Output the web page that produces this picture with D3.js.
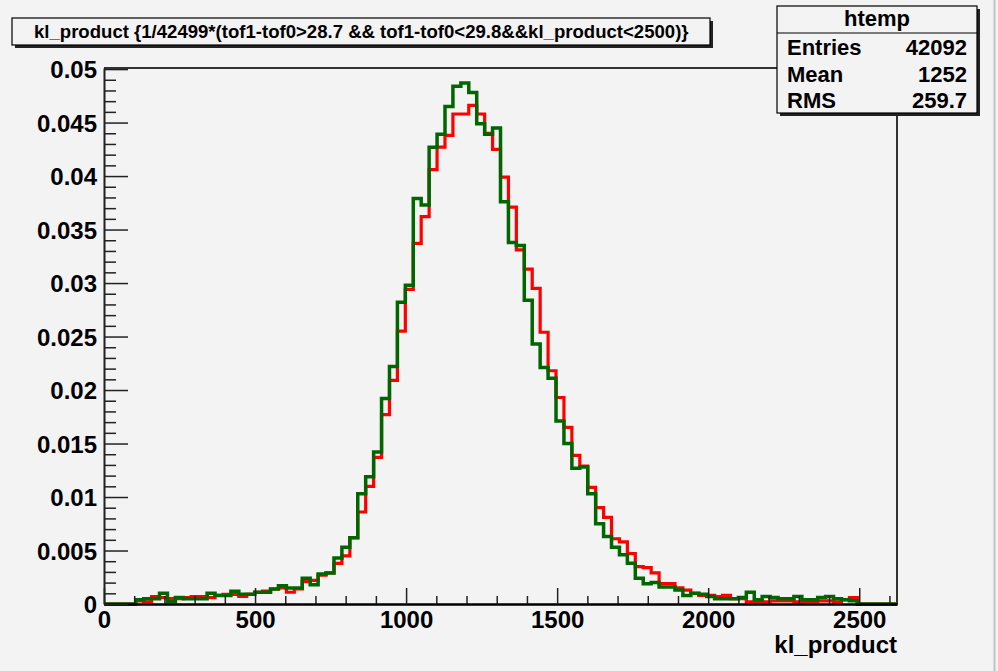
<!DOCTYPE html>
<html>
<head>
<meta charset="utf-8">
<script src="https://cdn.jsdelivr.net/npm/d3@7"></script>
<style>
  html, body { margin: 0; padding: 0; background: #f3f3f3; }
  svg { display: block; }
  text { font-family: "Liberation Sans", Arial, Helvetica, sans-serif; font-weight: bold; fill: #000; }
</style>
</head>
<body>
<svg id="chart" width="998" height="671"></svg>
<script>
// ---------------- data ----------------
const histTitle = "kl_product {1/42499*(tof1-tof0>28.7 && tof1-tof0<29.8&&kl_product<2500)}";
const xAxisTitle = "kl_product";
const histName = "htemp";
const statLabels = ["Entries", "Mean", "RMS"];
const statValues = ["42092", "1252", "259.7"];

const xMin = 0, xMax = 2625, nBins = 100;
const xTicks = [0, 500, 1000, 1500, 2000, 2500];
const xTickLabels = ["0", "500", "1000", "1500", "2000", "2500"];
const yTicks = [0, 0.005, 0.01, 0.015, 0.02, 0.025, 0.03, 0.035, 0.04, 0.045, 0.05];
const yTickLabels = ["0", "0.005", "0.01", "0.015", "0.02", "0.025", "0.03", "0.035", "0.04", "0.045", "0.05"];
const yMax = 0.0501;

// red histogram (bin contents, 100 bins)
const redValues = [
  0, 0, 0, 0, 0.0003, 0.0002, 0.0007, 0.0006, 0.0005, 0.0005,
  0.0006, 0.0007, 0.0007, 0.0006, 0.0008, 0.0009, 0.0009, 0.0007, 0.0009, 0.0011,
  0.0012, 0.0014, 0.0015, 0.0011, 0.0014, 0.0021, 0.0022, 0.0027, 0.0029, 0.0038,
  0.0045, 0.0062, 0.0086, 0.0110, 0.0137, 0.0177, 0.0209, 0.0255, 0.0294, 0.0337,
  0.0362, 0.0406, 0.0427, 0.0438, 0.0458, 0.0458, 0.0466, 0.0458, 0.0440, 0.0425,
  0.0399, 0.0371, 0.0331, 0.0313, 0.0295, 0.0254, 0.0218, 0.0193, 0.0165, 0.0139,
  0.0129, 0.0109, 0.0090, 0.0081, 0.0061, 0.0058, 0.0047, 0.0035, 0.0034, 0.0029,
  0.0019, 0.0019, 0.0015, 0.0013, 0.0010, 0.0008, 0.0008, 0.0007, 0.0008, 0.0005,
  0.0005, 0.0002, 0.0002, 0.0002, 0.0003, 0.0003, 0.0003, 0.0002, 0.0002, 0.0002,
  0.0003, 0.0003, 0.0002, 0.0004, 0.0006, 0, 0, 0, 0, 0
];
// green histogram (bin contents, 100 bins)
const greenValues = [
  0, 0, 0, 0, 0.0004, 0.0005, 0.0005, 0.0010, 0.0002, 0.0006,
  0.0005, 0.0005, 0.0005, 0.0010, 0.0008, 0.0008, 0.0012, 0.0009, 0.0009, 0.0011,
  0.0011, 0.0014, 0.0017, 0.0015, 0.0015, 0.0024, 0.0018, 0.0028, 0.0029, 0.0043,
  0.0053, 0.0062, 0.0103, 0.0119, 0.0142, 0.0192, 0.0222, 0.0282, 0.0298, 0.0379,
  0.0373, 0.0427, 0.0439, 0.0465, 0.0484, 0.0487, 0.0478, 0.0449, 0.0439, 0.0445,
  0.0376, 0.0338, 0.0335, 0.0284, 0.0243, 0.0221, 0.0211, 0.0171, 0.0150, 0.0127,
  0.0128, 0.0103, 0.0075, 0.0063, 0.0053, 0.0046, 0.0038, 0.0024, 0.0019, 0.0020,
  0.0016, 0.0016, 0.0013, 0.0008, 0.0010, 0.0009, 0.0007, 0.0005, 0.0005, 0.0005,
  0.0006, 0.0011, 0.0004, 0.0007, 0.0006, 0.0005, 0.0005, 0.0007, 0.0004, 0.0004,
  0.0006, 0.0007, 0.0005, 0.0004, 0.0003, 0, 0, 0, 0, 0
];

// ---------------- layout ----------------
const W = 998, H = 671;
const frame = { left: 104, right: 897, top: 68, bottom: 604 };
const svg = d3.select("#chart");

svg.append("rect").attr("x", 0).attr("y", 0).attr("width", W).attr("height", H).attr("fill", "#f3f3f3");
svg.append("line").attr("x1", 994.5).attr("x2", 994.5).attr("y1", 0).attr("y2", H)
  .attr("stroke", "#c4c4c4").attr("stroke-width", 2);

const x = d3.scaleLinear().domain([xMin, xMax]).range([frame.left, frame.right]);
const y = d3.scaleLinear().domain([0, yMax]).range([frame.bottom, frame.top]);

// frame top/right
svg.append("path")
  .attr("d", `M${frame.left},${frame.top}H${frame.right}V${frame.bottom}`)
  .attr("fill", "none").attr("stroke", "#333").attr("stroke-width", 2);

// histograms
const binW = (xMax - xMin) / nBins;
function histPoints(vals) {
  const pts = vals.map((v, i) => [xMin + i * binW, v]);
  pts.push([xMax, vals[vals.length - 1]]);
  return pts;
}
const line = d3.line().x(d => x(d[0])).y(d => y(d[1])).curve(d3.curveStepAfter);
svg.append("path").datum(histPoints(redValues)).attr("d", line)
  .attr("fill", "none").attr("stroke", "#ff0000").attr("stroke-width", 3.2).attr("stroke-linejoin", "miter");
svg.append("path").datum(histPoints(greenValues)).attr("d", line)
  .attr("fill", "none").attr("stroke", "#006600").attr("stroke-width", 3.5).attr("stroke-linejoin", "miter");

// x axis
const xMinor = d3.range(0, xMax + 1, 100).filter(v => !xTicks.includes(v));
const gxMinor = svg.append("g").attr("transform", `translate(0,${frame.bottom})`)
  .call(d3.axisBottom(x).tickValues(xMinor).tickSize(-8).tickSizeOuter(0).tickFormat(""));
const gx = svg.append("g").attr("transform", `translate(0,${frame.bottom})`)
  .call(d3.axisBottom(x).tickValues(xTicks).tickSize(-16).tickSizeOuter(0).tickPadding(7)
    .tickFormat((d, i) => xTickLabels[i]));
[gxMinor, gx].forEach(g => {
  g.select(".domain").attr("stroke", "#000").attr("stroke-width", 2.2);
  g.selectAll(".tick line").attr("stroke", "#222").attr("stroke-width", 1.5);
});
gx.selectAll(".tick text").attr("font-size", 24).attr("font-family", null).attr("dy", "0.72em");

// y axis
const yMinor = d3.range(0, 51).map(k => k / 1000).filter(v => !yTicks.some(t => Math.abs(t - v) < 1e-9));
const gyMinor = svg.append("g").attr("transform", `translate(${frame.left},0)`)
  .call(d3.axisLeft(y).tickValues(yMinor).tickSize(-12).tickSizeOuter(0).tickFormat(""));
const gy = svg.append("g").attr("transform", `translate(${frame.left},0)`)
  .call(d3.axisLeft(y).tickValues(yTicks).tickSize(-24).tickSizeOuter(0).tickPadding(7)
    .tickFormat((d, i) => yTickLabels[i]));
[gyMinor, gy].forEach(g => {
  g.select(".domain").attr("stroke", "#222").attr("stroke-width", 1.6);
  g.selectAll(".tick line").attr("stroke", "#222").attr("stroke-width", 1.5);
});
gy.selectAll(".tick text").attr("font-size", 24).attr("font-family", null).attr("dy", "0.36em");

// x axis title
svg.append("text").attr("x", frame.right).attr("y", 653).attr("text-anchor", "end")
  .attr("font-size", 24).text(xAxisTitle);

// title box
const tb = { x: 12, y: 18, w: 698, h: 27 };
svg.append("rect").attr("x", tb.x + 3).attr("y", tb.y + 3).attr("width", tb.w).attr("height", tb.h).attr("fill", "#222");
svg.append("rect").attr("x", tb.x).attr("y", tb.y).attr("width", tb.w).attr("height", tb.h)
  .attr("fill", "#f3f3f3").attr("stroke", "#000").attr("stroke-width", 1.2);
const tt = svg.append("text").attr("x", 34).attr("y", tb.y + 20).attr("font-size", 18).text(histTitle);
const tw = tt.node().getComputedTextLength();
tt.attr("font-size", 18 * 655 / tw);

// stats box
const sb = { x: 777, y: 6, w: 200, h: 107, head: 27 };
svg.append("rect").attr("x", sb.x + 3).attr("y", sb.y + 3).attr("width", sb.w).attr("height", sb.h).attr("fill", "#222");
svg.append("rect").attr("x", sb.x).attr("y", sb.y).attr("width", sb.w).attr("height", sb.h)
  .attr("fill", "#f3f3f3").attr("stroke", "#000").attr("stroke-width", 1.2);
svg.append("line").attr("x1", sb.x).attr("x2", sb.x + sb.w).attr("y1", sb.y + sb.head).attr("y2", sb.y + sb.head)
  .attr("stroke", "#000").attr("stroke-width", 1.2);
svg.append("text").attr("x", sb.x + sb.w / 2).attr("y", 26).attr("text-anchor", "middle")
  .attr("font-size", 22).text(histName);
const rowY = [55, 82, 108];
statLabels.forEach((lab, i) => {
  svg.append("text").attr("x", 787).attr("y", rowY[i]).attr("font-size", 22).text(lab);
  svg.append("text").attr("x", 967).attr("y", rowY[i]).attr("text-anchor", "end").attr("font-size", 22).text(statValues[i]);
});
</script>
</body>
</html>
